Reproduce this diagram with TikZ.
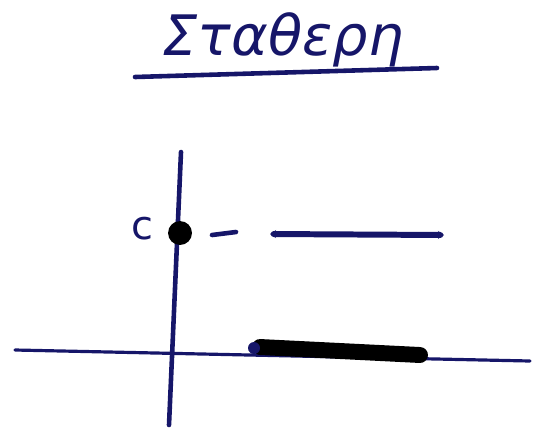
\documentclass[tikz,border=0pt]{standalone}
\usepackage{fontspec}
\newfontfamily\handfont{DejaVu Sans}
\usetikzlibrary{arrows.meta}
\definecolor{inkblue}{RGB}{22, 22, 105}
\tikzset{
  ink/.style={inkblue, line width=4.6pt, line cap=round},
  thinink/.style={inkblue, line width=3.2pt, line cap=round},
  marker/.style={black, line width=16pt, line cap=round},
  dotmark/.style={circle, fill=black, inner sep=0pt, minimum size=24pt},
}

\begin{document}
\begin{tikzpicture}[x=1bp, y=-1bp]
  % frame in pixel units, y grows downward
  \useasboundingbox (0,0) rectangle (546,432);

  % title and underline
  \node[inkblue, font=\handfont\itshape\fontsize{56}{56}\selectfont] (title) at (283,40) {Σταθερη};
  \coordinate (ulA) at (135,77);
  \coordinate (ulB) at (437,68);
  \draw[ink] (ulA) -- (ulB);

  % axes
  \coordinate (xL) at (15,350);
  \coordinate (xR) at (530,361);
  \coordinate (yT) at (181,152);
  \coordinate (yB) at (169,425);
  \draw[thinink] (xL) -- (xR);
  \draw[ink] (yT) -- (yB);

  % constant value c on the y axis
  \node[dotmark] (cdot) at (180,233) {};
  \node[inkblue, font=\handfont\fontsize{40}{40}\selectfont] (clab) at (142,229) {c};

  % dash and the line y = c
  \coordinate (dA) at (212,235);
  \coordinate (dB) at (236,232);
  \draw[ink] (dA) -- (dB);
  \coordinate (hA) at (270,234);
  \coordinate (hB) at (444,235);
  \draw[ink, line width=6pt, {Stealth[length=6pt, width=8pt]}-{Stealth[length=6pt, width=8pt]}] (hA) -- (hB);

  % marked segment on the x axis
  \coordinate (sA) at (260,347);
  \coordinate (sB) at (420,355);
  \draw[marker] (sA) -- (sB);
  \fill[inkblue] (254,348) circle (6);
\end{tikzpicture}
\end{document}
